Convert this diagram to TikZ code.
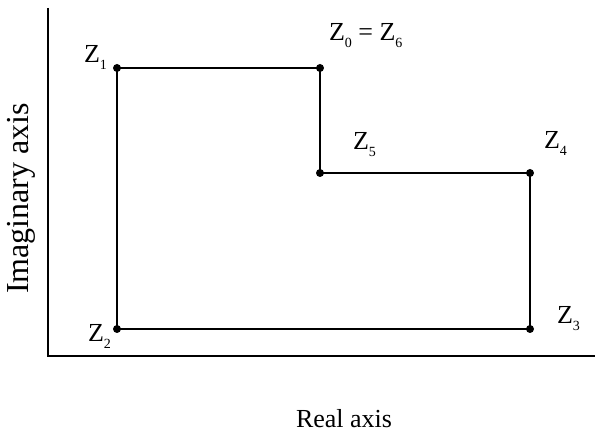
\documentclass[tikz,border=0pt]{standalone}
\usepackage{fontspec}
\setmainfont{Liberation Serif}
\usetikzlibrary{positioning}
\newcommand{\zpt}[1]{Z\raisebox{-3.5pt}{\fontsize{7}{7}\selectfont #1}}
\tikzset{
  zlabel/.style={anchor=base west,inner sep=0pt,font=\fontsize{13}{15}\selectfont},
  vertex/.style={fill=black},
}
\begin{document}
\begin{tikzpicture}[x=0.5pt,y=0.5pt,line width=1pt]
  \useasboundingbox (0,0) rectangle (595,437);
  % axes
  \coordinate (o) at (48,81);
  \coordinate (ytop) at (48,429);
  \coordinate (xend) at (595,81);
  \draw (ytop) -- (o) -- (xend);
  \node[zlabel] (real) at (295,9) {Real axis};
  \node[zlabel,rotate=90,font=\fontsize{16}{18}\selectfont] (imag) at (28,142) {Imaginary axis};
  % contour points
  \coordinate (z1) at (117,369);
  \coordinate (z6) at (320,369);
  \coordinate (z5) at (320,264);
  \coordinate (z4) at (530,264);
  \coordinate (z3) at (530,108);
  \coordinate (z2) at (117,108);
  \draw (z6) -- (z1) -- (z2) -- (z3) -- (z4) -- (z5) -- (z6);
  \foreach \p in {z1,z2,z3,z4,z5,z6}
    \fill[vertex] (\p) circle (2pt);
  % labels
  \node[zlabel] (l1) at (83,374) {\zpt{1}};
  \node[zlabel] (l6) at (328,396) {\zpt{0} = \zpt{6}};
  \node[zlabel] (l5) at (352,287) {\zpt{5}};
  \node[zlabel] (l4) at (543,288) {\zpt{4}};
  \node[zlabel] (l3) at (556,113) {\zpt{3}};
  \node[zlabel] (l2) at (87,95) {\zpt{2}};
\end{tikzpicture}
\end{document}
